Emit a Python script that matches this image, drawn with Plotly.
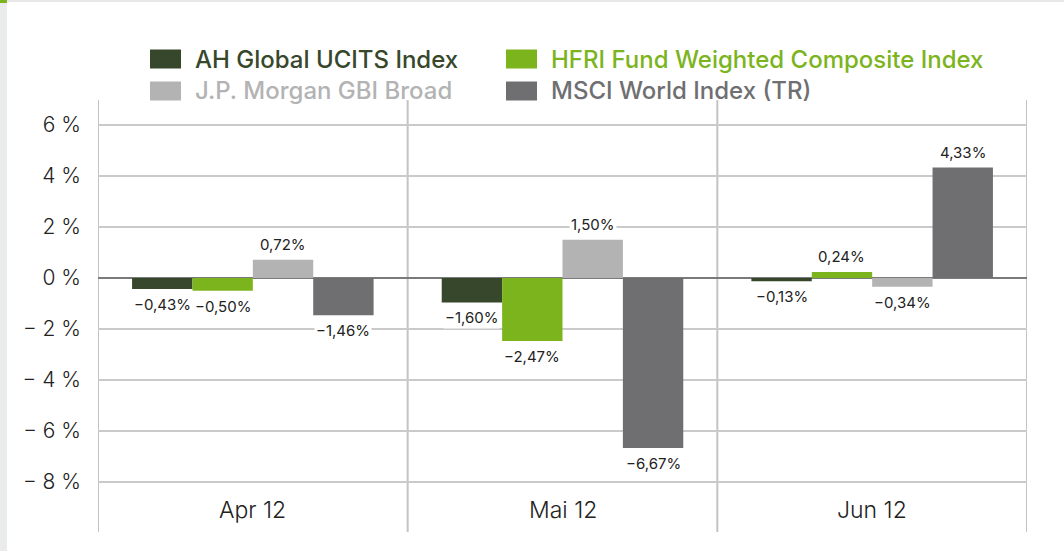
import plotly.graph_objects as go

# months and series (monthly performance in %)
months = ["Apr 12", "Mai 12", "Jun 12"]
series_names = [
    "AH Global UCITS Index",
    "HFRI Fund Weighted Composite Index",
    "J.P. Morgan GBI Broad",
    "MSCI World Index (TR)",
]
ah_global = [-0.43, -0.96, -0.13]
hfri = [-0.50, -2.47, 0.24]
jpm_gbi = [0.72, 1.50, -0.34]
msci_world = [-1.46, -6.67, 4.33]

# printed value labels (as shown on the chart)
ah_labels = ["−0,43%", "−1,60%", "−0,13%"]
hfri_labels = ["−0,50%", "−2,47%", "0,24%"]
jpm_labels = ["0,72%", "1,50%", "−0,34%"]
msci_labels = ["−1,46%", "−6,67%", "4,33%"]

y_ticks = [6, 4, 2, 0, -2, -4, -6, -8]
y_ticktext = ["6 %", "4 %", "2 %", "0 %", "− 2 %", "− 4 %", "− 6 %", "− 8 %"]

colors = ["#37472b", "#7cb41e", "#b3b3b4", "#6f6f71"]
legend_text_colors = ["#37472b", "#7cb41e", "#b3b3b4", "#6f6f71"]

W, H = 1064, 551
BARGAP = 0.22
FONT = "Inter, Roboto, sans-serif"

values = [ah_global, hfri, jpm_gbi, msci_world]
labels = [ah_labels, hfri_labels, jpm_labels, msci_labels]

fig = go.Figure()
for name, vals, col in zip(series_names, values, colors):
    fig.add_trace(go.Bar(
        x=list(range(len(months))), y=vals, name=name,
        marker=dict(color=col, line=dict(width=0)),
        showlegend=False, hoverinfo="y+name",
    ))

annotations = []
n = len(series_names)
bar_w = (1 - BARGAP) / n
for j, (vals, labs) in enumerate(zip(values, labels)):
    for i, (v, t) in enumerate(zip(vals, labs)):
        annotations.append(dict(
            x=i + (j - (n - 1) / 2) * bar_w, y=v, xref="x", yref="y",
            text=t, showarrow=False,
            yanchor="top" if v < 0 else "bottom",
            yshift=-4 if v < 0 else 4,
            bgcolor="white", borderpad=1,
            font=dict(family=FONT, size=15, color="#222222"),
        ))

# month labels inside the plot, under the bars
for i, m in enumerate(months):
    annotations.append(dict(
        x=i, y=-9.1, xref="x", yref="y", text=m, showarrow=False,
        font=dict(family=FONT, size=23, color="#222222", weight=300),
    ))

# custom legend (wide rectangular swatches)
legend_pos = [(150, 59), (506, 59), (150, 91), (506, 91)]
shapes = []
for (lx, ly), name, col, tcol in zip(legend_pos, series_names, colors, legend_text_colors):
    shapes.append(dict(
        type="rect", xref="paper", yref="paper",
        x0=lx / W, x1=(lx + 31) / W, y0=1 - (ly + 9.5) / H, y1=1 - (ly - 9.5) / H,
        fillcolor=col, line=dict(width=0),
    ))
    annotations.append(dict(
        x=(lx + 43) / W, y=1 - ly / H, xref="paper", yref="paper",
        xanchor="left", yanchor="middle", text=name, showarrow=False,
        font=dict(family=FONT, size=24, color=tcol, weight=500),
    ))

# vertical separators between months
for k in range(len(months) + 1):
    shapes.append(dict(
        type="line", xref="x", yref="y domain",
        x0=k - 0.5, x1=k - 0.5, y0=0, y1=1,
        line=dict(color="#c3c3c3", width=2), layer="below",
    ))

# page decoration: grey strip on the left, top rule with green accent
shapes += [
    dict(type="rect", xref="paper", yref="paper", x0=0, x1=7 / W, y0=0, y1=1,
         fillcolor="#eaeceb", line=dict(width=0), layer="below"),
    dict(type="rect", xref="paper", yref="paper", x0=0, x1=1, y0=1 - 2 / H, y1=1,
         fillcolor="#e8e8e8", line=dict(width=0), layer="below"),
    dict(type="rect", xref="paper", yref="paper", x0=0, x1=7 / W, y0=1 - 3 / H, y1=1,
         fillcolor="#7cb41e", line=dict(width=0)),
]

fig.update_layout(
    width=W, height=H,
    margin=dict(l=0, r=0, t=0, b=0),
    paper_bgcolor="white", plot_bgcolor="white",
    barmode="group", bargap=BARGAP, bargroupgap=0,
    font=dict(family=FONT, color="#222222"),
    xaxis=dict(
        domain=[98 / W, 1027 / W],
        range=[-0.5, len(months) - 0.5],
        showticklabels=False, showgrid=False, zeroline=False, fixedrange=True,
    ),
    yaxis=dict(
        domain=[1 - 532 / H, 1 - 100 / H],
        range=[-9.96, 6.98],
        tickvals=y_ticks, ticktext=y_ticktext,
        tickfont=dict(family=FONT, size=21, color="#222222", weight=300),
        ticklabelstandoff=16,
        showgrid=True, gridcolor="#cacaca", gridwidth=1.5,
        zeroline=True, zerolinecolor="#7a7a7a", zerolinewidth=1.5,
        showline=False, fixedrange=True,
    ),
    shapes=shapes,
    annotations=annotations,
)

fig.write_html(
    "out.html",
    config={"displayModeBar": False},
    post_script="document.body.style.margin='0';",
)
